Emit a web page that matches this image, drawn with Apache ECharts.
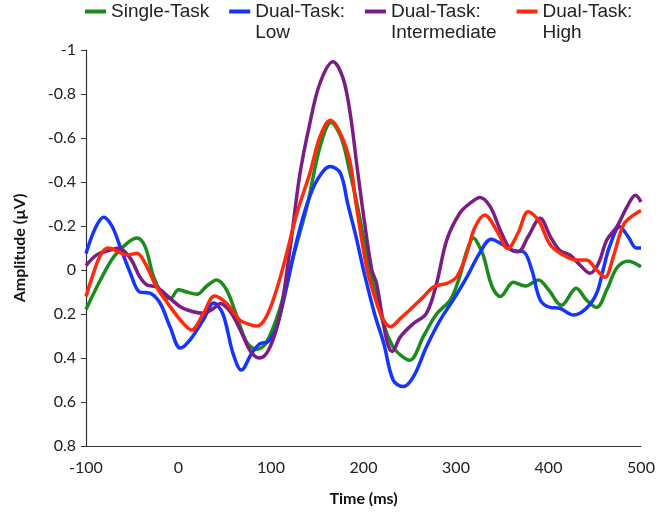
<!DOCTYPE html>
<html>
<head>
<meta charset="utf-8">
<script src="https://cdn.jsdelivr.net/npm/echarts@6/dist/echarts.min.js"></script>
<style>html,body{margin:0;padding:0;background:#fff}#c{width:662px;height:519px}</style>
</head>
<body>
<div id="c"></div>
<script>
const seriesNames = ['Single-Task', 'Dual-Task:\nLow', 'Dual-Task:\nIntermediate', 'Dual-Task:\nHigh'];
const seriesColors = ['#1b8c1b', '#1434ff', '#7a1e86', '#ff2a0c'];

const singleT = [-100,-85,-70,-56,-45,-36,-27,-16,-9,0,9,20,30,41,52,63,74,85,95,110,124,139,153,165,176,185,193,207,222,232,241,250,265,279,294,304,312,319,326,330,339,348,362,375,389,400,414,430,441,452,463,474,486,500];
const singleV = [0.18,0.05,-0.06,-0.12,-0.145,-0.105,0.03,0.12,0.13,0.09,0.1,0.11,0.075,0.045,0.09,0.21,0.33,0.36,0.33,0.17,-0.06,-0.29,-0.56,-0.67,-0.6,-0.45,-0.3,0,0.25,0.35,0.39,0.41,0.3,0.2,0.135,0.03,-0.09,-0.145,-0.1,-0.06,0.075,0.12,0.056,0.073,0.045,0.09,0.16,0.083,0.136,0.17,0.09,-0.01,-0.04,-0.015];

const lowT = [-100,-90,-81,-72,-63,-52,-42,-31,-20,-9,2,12,27,38,48,59,68,79,88,97,106,117,128,139,150,164,175,183,192,200,212,222,232,243,254,268,283,297,312,326,338,351,362,373,382,391,402,412,427,441,452,459,466,477,486,495,500];
const lowV = [-0.075,-0.19,-0.24,-0.2,-0.105,0.015,0.1,0.105,0.15,0.26,0.355,0.32,0.225,0.15,0.2,0.38,0.455,0.38,0.335,0.325,0.26,0.075,-0.135,-0.3,-0.41,-0.47,-0.44,-0.3,-0.15,0,0.2,0.335,0.5,0.53,0.485,0.35,0.227,0.136,0.03,-0.08,-0.14,-0.114,-0.088,-0.083,0,0.136,0.17,0.174,0.205,0.174,0.106,0,-0.106,-0.197,-0.152,-0.1,-0.1];

const interT = [-100,-88,-74,-65,-52,-42,-34,-24,-13,2,16,27,38,45,56,67,78,88,99,110,121,131,142,153,167,178,186,193,200,209,214,225,231,240,254,268,279,290,304,315,326,337,348,358,367,378,391,402,412,423,434,445,454,463,474,485,494,500];
const interV = [-0.02,-0.07,-0.09,-0.1,-0.053,0.03,0.068,0.076,0.114,0.167,0.19,0.197,0.174,0.152,0.19,0.275,0.37,0.4,0.35,0.197,-0.11,-0.43,-0.667,-0.85,-0.947,-0.87,-0.7,-0.47,-0.25,0,0.06,0.318,0.371,0.303,0.243,0.197,0.061,-0.136,-0.258,-0.303,-0.33,-0.288,-0.18,-0.098,-0.083,-0.152,-0.235,-0.152,-0.09,-0.068,-0.023,0.015,-0.03,-0.136,-0.197,-0.288,-0.34,-0.31];

const highT = [-100,-92,-84,-76,-65,-56,-45,-36,-24,-9,5,14,27,39,52,66,75,85,95,106,117,128,142,153,164,174,185,192,204,215,222,229,240,250,265,276,290,301,312,320,331,344,356,367,378,389,402,416,430,441,452,461,470,481,492,500];
const highV = [0.12,0.015,-0.07,-0.1,-0.083,-0.068,-0.076,-0.03,0.076,0.167,0.242,0.273,0.197,0.118,0.152,0.227,0.245,0.255,0.212,0.09,-0.076,-0.258,-0.44,-0.606,-0.681,-0.63,-0.5,-0.3,0,0.16,0.23,0.258,0.22,0.182,0.121,0.076,0.061,0.03,-0.08,-0.19,-0.25,-0.18,-0.098,-0.167,-0.265,-0.227,-0.114,-0.068,-0.045,-0.045,0,0.033,-0.06,-0.205,-0.25,-0.27];

const xTickMin = -100, xTickMax = 500, xTickStep = 100;
const yTickMin = -1, yTickMax = 0.8, yTickStep = 0.2;

const allT = [singleT, lowT, interT, highT];
const allV = [singleV, lowV, interV, highV];

const chart = echarts.init(document.getElementById('c'), null, {renderer: 'canvas'});
chart.setOption({
  animation: false,
  backgroundColor: '#fff',
  grid: {left: 86, right: 21, top: 50, bottom: 73},
  legend: {
    left: 85, top: 1, padding: 0,
    itemWidth: 21, itemHeight: 25, itemGap: 20,
    icon: 'path://M0,0H21V4H0Z M0,24.99H0.01V25H0Z',
    data: seriesNames,
    formatter: n => n.indexOf('\n') >= 0 ? n : n + '\n ',
    textStyle: {fontFamily: 'Liberation Sans', fontSize: 19, color: '#222', lineHeight: 21}
  },
  xAxis: {
    type: 'value', min: xTickMin, max: xTickMax, interval: xTickStep,
    name: 'Time (ms)', nameLocation: 'middle', nameGap: 45,
    nameTextStyle: {fontFamily: 'Lato', fontWeight: 'bold', fontSize: 16, color: '#111'},
    axisLine: {onZero: false, lineStyle: {color: '#333', width: 1.2}},
    axisTick: {show: false},
    splitLine: {show: false},
    axisLabel: {fontFamily: 'Lato', fontSize: 16, color: '#222', margin: 14}
  },
  yAxis: {
    type: 'value', min: yTickMin, max: yTickMax, interval: yTickStep, inverse: true,
    name: 'Amplitude (µV)', nameLocation: 'middle', nameGap: 58,
    nameTextStyle: {fontFamily: 'Lato', fontWeight: 'bold', fontSize: 16, color: '#111'},
    axisLine: {show: true, onZero: false, lineStyle: {color: '#333', width: 1.2}},
    axisTick: {show: true, length: 5, lineStyle: {color: '#333'}},
    splitLine: {show: false},
    axisLabel: {fontFamily: 'Lato', fontSize: 16, color: '#222', margin: 10}
  },
  series: seriesNames.map((n, i) => ({
    name: n, type: 'line', smooth: 0.35, showSymbol: false,
    color: seriesColors[i],
    lineStyle: {width: 3.5, color: seriesColors[i]},
    data: allT[i].map((t, j) => [t, allV[i][j]])
  }))
});
</script>
</body>
</html>
